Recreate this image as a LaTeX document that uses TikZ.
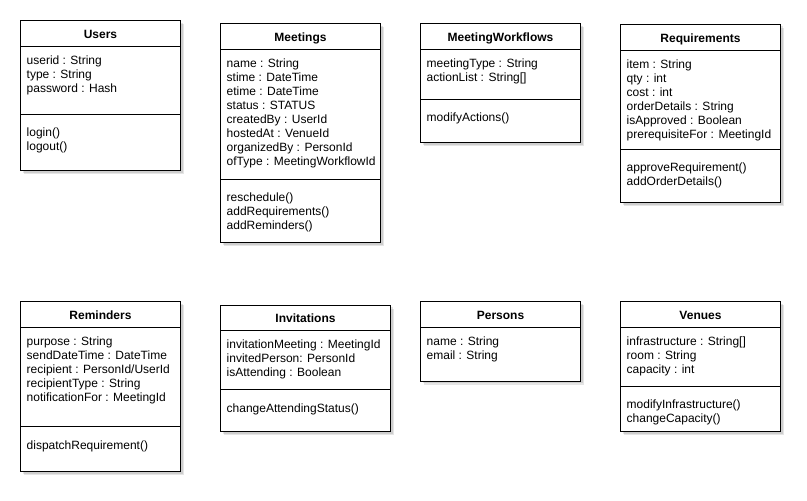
\documentclass[tikz,border=0pt]{standalone}
\usepackage{fontspec}
\setmainfont{Liberation Sans}
\tikzset{
  classbox/.style={draw=black, line width=1pt, fill=white},
  shadowbox/.style={fill=black, fill opacity=0.10, draw=none},
  sepline/.style={draw=black, line width=1pt},
  member/.style={anchor=base west, inner sep=0pt, font=\fontsize{12}{14}\selectfont, text=black},
  classtitle/.style={anchor=base, inner sep=0pt, font=\bfseries\fontsize{12}{14}\selectfont, text=black},
}
% #1 name, #2 left, #3 right, #4 top, #5 bottom, #6 header separator, #7 title
\newcommand\umlbox[7]{%
  \fill[shadowbox] (#2+2,#4+2) rectangle (#3+2,#5+2);
  \fill[shadowbox] (#2+3.5,#4+3.5) rectangle (#3+3.5,#5+3.5);
  \draw[classbox] (#2,#4) rectangle (#3,#5);
  \draw[sepline] (#2,#6) -- (#3,#6);
  \node[classtitle] (#1-t) at ({(#2+#3)/2},{(#4+#6)/2+5.2}) {#7};
}
% #1 node prefix, #2 x, #3 first baseline, #4 list
\newcommand\umllines[4]{%
  \foreach \t [count=\i] in {#4}
    \node[member] (#1\i) at (#2,{#3+1+14*(\i-1)}) {\t};
}
\begin{document}
\begin{tikzpicture}[x=1pt,y=-1pt]
\useasboundingbox (0,0) rectangle (807,501);

% Users
\umlbox{users}{20.5}{180.5}{20.5}{170.5}{46.7}{Users}
\draw[sepline] (20.5,114) -- (180.5,114);
\umllines{users-a}{26.5}{63.3}{userid : String, type : String, password : Hash}
\umllines{users-m}{26.5}{135.5}{login(), logout()}

% Meetings
\umlbox{meet}{220.5}{380.5}{23.5}{242.5}{49.3}{Meetings}
\draw[sepline] (220.5,179) -- (380.5,179);
\umllines{meet-a}{226.5}{66.3}{name : String, stime : DateTime, etime : DateTime, status : STATUS, createdBy : UserId, hostedAt : VenueId, organizedBy : PersonId, ofType : MeetingWorkflowId}
\umllines{meet-m}{226.5}{200.5}{reschedule(), addRequirements(), addReminders()}

% MeetingWorkflows
\umlbox{mw}{420.5}{580.5}{23.5}{142.5}{49.3}{MeetingWorkflows}
\draw[sepline] (420.5,99) -- (580.5,99);
\umllines{mw-a}{426.5}{66.3}{meetingType : String, actionList : String[]}
\umllines{mw-m}{426.5}{120.8}{modifyActions()}

% Requirements
\umlbox{req}{620.5}{780.5}{24}{202.5}{50.7}{Requirements}
\draw[sepline] (620.5,149.3) -- (780.5,149.3);
\umllines{req-a}{626.5}{67}{item : String, qty : int, cost : int, orderDetails : String, isApproved : Boolean, prerequisiteFor : MeetingId}
\umllines{req-m}{626.5}{170.5}{approveRequirement(), addOrderDetails()}

% Reminders
\umlbox{rem}{20.5}{180.5}{301.7}{471.5}{327.3}{Reminders}
\draw[sepline] (20.5,426) -- (180.5,426);
\umllines{rem-a}{26.5}{344.3}{purpose : String, sendDateTime : DateTime, recipient : PersonId/UserId, recipientType : String, notificationFor : MeetingId}
\umllines{rem-m}{26.5}{448.5}{dispatchRequirement()}

% Invitations
\umlbox{inv}{220.5}{390.5}{305}{431.5}{330}{Invitations}
\draw[sepline] (220.5,389.3) -- (390.5,389.3);
\umllines{inv-a}{226.5}{347}{invitationMeeting : MeetingId, invitedPerson: PersonId, isAttending : Boolean}
\umllines{inv-m}{226.5}{411.8}{changeAttendingStatus()}

% Persons
\umlbox{per}{420.5}{580.5}{301.7}{381}{327.3}{Persons}
\umllines{per-a}{426.5}{344.3}{name : String, email : String}

% Venues
\umlbox{ven}{620.5}{780.5}{301.7}{431.5}{327.3}{Venues}
\draw[sepline] (620.5,386) -- (780.5,386);
\umllines{ven-a}{626.5}{344.3}{infrastructure : String[], room : String, capacity : int}
\umllines{ven-m}{626.5}{407.5}{modifyInfrastructure(), changeCapacity()}

\end{tikzpicture}
\end{document}
